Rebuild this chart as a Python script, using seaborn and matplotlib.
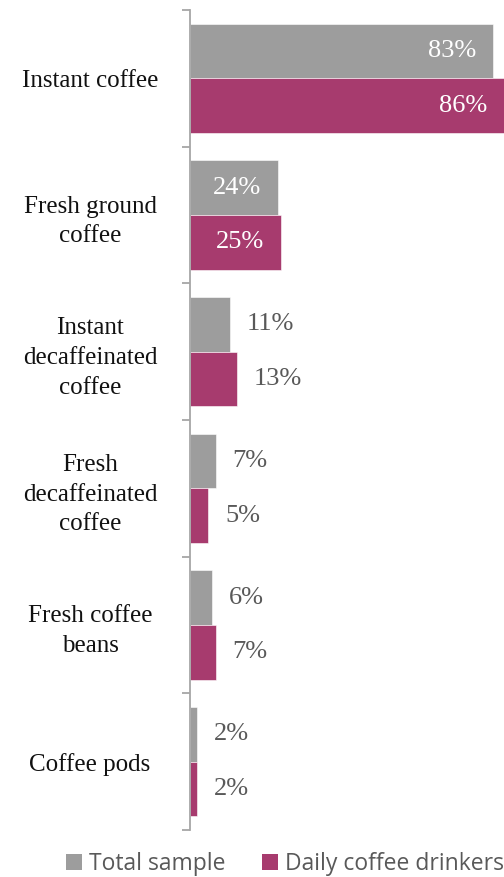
import matplotlib
matplotlib.use('Agg')
import matplotlib.pyplot as plt
from matplotlib.patches import Patch
import pandas as pd
import seaborn as sns

categories = ['Instant coffee', 'Fresh ground\ncoffee', 'Instant\ndecaffeinated\ncoffee',
              'Fresh\ndecaffeinated\ncoffee', 'Fresh coffee\nbeans', 'Coffee pods']
total_sample = [83, 24, 11, 7, 6, 2]
daily_drinkers = [86, 25, 13, 5, 7, 2]
series_names = ['Total sample', 'Daily coffee drinkers']
colors = ['#9D9D9D', '#A73B6E']

df = pd.DataFrame({
    'category': categories * 2,
    'value': total_sample + daily_drinkers,
    'series': [series_names[0]] * len(categories) + [series_names[1]] * len(categories),
})

sns.set_style('white')
plt.rcParams['font.family'] = ['Liberation Serif', 'DejaVu Serif']

fig = plt.figure(figsize=(5.04, 8.77), dpi=100)
ax = fig.add_axes([190 / 504, 1 - 830 / 877, 1 - 190 / 504, 820 / 877])

sns.barplot(data=df, y='category', x='value', hue='series', palette=colors,
            saturation=1, orient='h', width=0.8, dodge=True, ax=ax, legend=False,
            edgecolor='white', linewidth=0.4)

ax.set_xlim(0, 86)
ax.set_ylim(len(categories) - 0.5, -0.5)
ax.set_xlabel('')
ax.set_ylabel('')
ax.set_xticks([])

for side in ['top', 'right', 'bottom']:
    ax.spines[side].set_visible(False)
ax.spines['left'].set_color('#A6A6A6')
ax.spines['left'].set_linewidth(1.3)

ax.set_yticks(range(len(categories)))
ax.set_yticklabels(categories, fontsize=18, color='#111111', ha='center', linespacing=1.45)
ax.tick_params(axis='y', which='major', length=0, pad=72)
ax.set_yticks([i - 0.5 for i in range(len(categories) + 1)], minor=True)
ax.tick_params(axis='y', which='minor', left=True, length=6, width=1.3,
               color='#A6A6A6', direction='out')

# value labels: white inside for the long bars, grey outside for short ones
for container in ax.containers:
    for bar in container:
        w = bar.get_width()
        yc = bar.get_y() + bar.get_height() / 2
        if w > 20:
            ax.annotate(f'{w:.0f}%', (w, yc), xytext=(-12, 0), textcoords='offset points',
                        ha='right', va='center', fontsize=19, color='white')
        else:
            ax.annotate(f'{w:.0f}%', (w, yc), xytext=(12, 0), textcoords='offset points',
                        ha='left', va='center', fontsize=19, color='#595959')

handles = [Patch(facecolor=c, edgecolor='none') for c in colors]
fig.legend(handles, series_names, loc='center', bbox_to_anchor=(0.565, 1 - 864 / 877),
           ncol=2, frameon=False, handlelength=0.7, handleheight=0.7,
           handletextpad=0.3, columnspacing=1.6,
           prop={'family': 'Open Sans', 'size': 16.5}, labelcolor='#595959')

fig.savefig('out.png', dpi=100)
